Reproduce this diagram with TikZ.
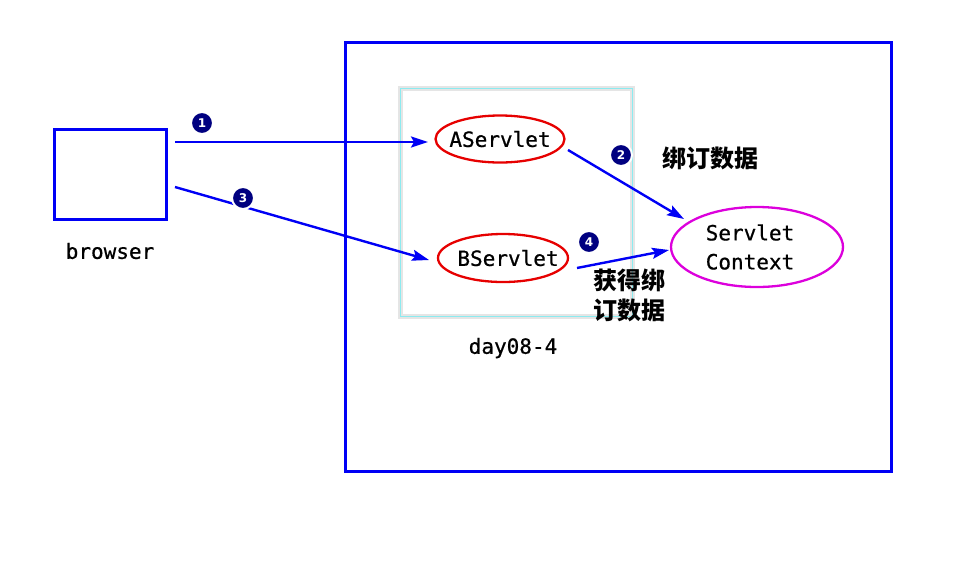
\documentclass[tikz,border=0pt]{standalone}
\usepackage{fontspec}
\newfontfamily\mymono[FakeBold=0.7]{DejaVu Sans Mono}
\newfontfamily\cjk{Noto Sans CJK SC}
\newfontfamily\numfont{DejaVu Sans}
\usetikzlibrary{arrows.meta,shapes.geometric}
\definecolor{lineblue}{RGB}{0,0,245}
\definecolor{ellred}{RGB}{230,0,0}
\definecolor{ellmag}{RGB}{220,0,220}
\definecolor{navy}{RGB}{0,0,128}
\definecolor{cyanline}{RGB}{140,235,240}
\tikzset{
  boxline/.style={draw=lineblue,line width=2.6pt},
  monotext/.style={font=\mymono\fontsize{21}{29}\selectfont},
  servlet/.style={ellipse,draw=ellred,line width=2.3pt,inner sep=0pt},
  ctx/.style={ellipse,draw=ellmag,line width=2.3pt,inner sep=0pt},
  conn/.style={draw=lineblue,line width=2.4pt,-{Stealth[length=17pt,width=11pt,inset=3pt]}},
  badge/.style={circle,fill=navy,draw=white,line width=2pt,inner sep=0pt,minimum size=22pt,text=white,font=\numfont\bfseries\fontsize{12}{12}\selectfont},
  txtlabel/.style={monotext},
  cjklabel/.style={font=\cjk\bfseries\fontsize{24}{30}\selectfont,align=left}
}
\begin{document}
\begin{tikzpicture}[x=1pt,y=-1pt]
\useasboundingbox (0,0) rectangle (958,566);
% outer container
\node[boxline,minimum width=546pt,minimum height=429pt,anchor=north west,inner sep=0pt] (outer) at (344,41) {};
% inner web app box
\draw[draw=black!10,line width=5pt] (400,88) rectangle (632,316);
\node[draw=cyanline,line width=0.6pt,minimum width=232pt,minimum height=228pt,anchor=north west,inner sep=0pt] (inner) at (400,88) {};
% browser
\node[boxline,minimum width=112pt,minimum height=90pt,anchor=north west,inner sep=0pt] (browser) at (53,128) {};
\node[txtlabel] (browserlbl) at (110,251) {browser};
% servlets
\node[servlet,minimum width=129pt,minimum height=47pt] (aserv) at (500,139) {};
\node[txtlabel] (atext) at (aserv.center) {AServlet};
\node[servlet,minimum width=130pt,minimum height=48pt] (bserv) at (503,258) {};
\node[txtlabel] (btext) at ([xshift=5pt]bserv.center) {BServlet};
\node[ctx,minimum width=172pt,minimum height=80pt] (ctx) at (757,247) {};
\node[txtlabel,align=left] (ctxtext) at ([xshift=-7pt]ctx.center) {Servlet\\Context};
\node[txtlabel] (daylbl) at (513,348) {day08-4};
% connector endpoints
\coordinate (b1) at (175,142);
\coordinate (b3) at (175,187);
\coordinate (a1) at (428,142);
\coordinate (a3) at (429,260);
\coordinate (s2) at (568,150);
\coordinate (c2) at (684,219);
\coordinate (s4) at (577,268);
\coordinate (c4) at (669,250);
\draw[conn] (b1) -- (a1);
\draw[conn] (b3) -- (a3);
\draw[conn] (s2) -- (c2);
\draw[conn] (s4) -- (c4);
% badges
\node[badge] (n1) at (202,123) {1};
\node[badge] (n3) at (243,198) {3};
\node[badge] (n2) at (621,155) {2};
\node[badge] (n4) at (589,242) {4};
% chinese labels
\node[cjklabel] (bind) at (710,158) {绑订数据};
\node[cjklabel] (get) at (629,295) {获得绑\\订数据};
\end{tikzpicture}
\end{document}
